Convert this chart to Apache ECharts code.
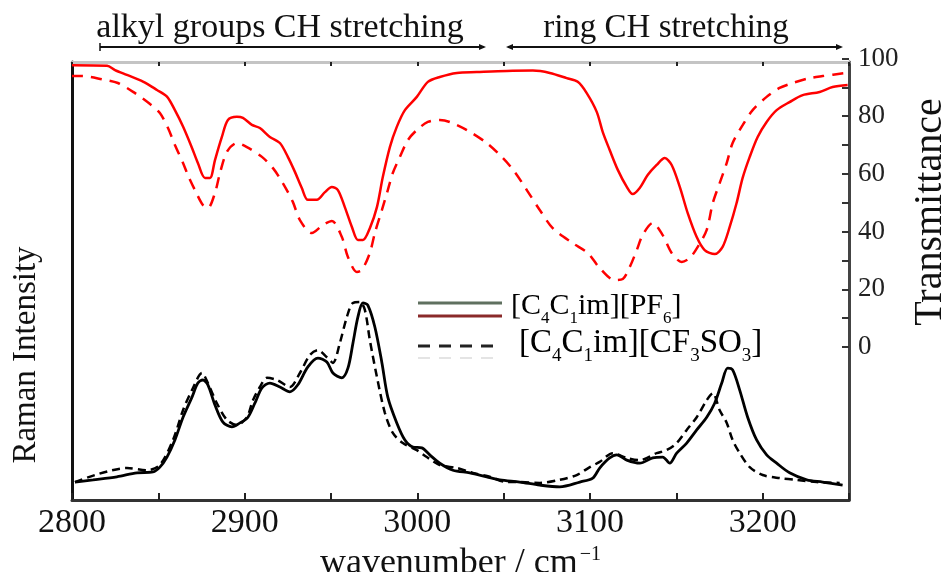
<!DOCTYPE html>
<html>
<head>
<meta charset="utf-8">
<script src="https://cdn.jsdelivr.net/npm/echarts@6/dist/echarts.min.js"></script>
<style>html,body{margin:0;padding:0;background:#fff;}#c{width:949px;height:572px;}</style>
</head>
<body>
<div id="c"></div>
<script>
// ---------- DATA ----------
var xTicks = [2800, 2900, 3000, 3100, 3200];
var tTicks = [0, 20, 40, 60, 80, 100];

// IR transmittance, [C4C1im][PF6] (solid red)
var irPF6_w = [2800,2820.3,2824.9,2831.8,2841.1,2849.2,2855.0,2859.6,2864.3,2869.5,2872.9,2877.0,2879.9,2882.8,2886.8,2890.3,2895.5,2899.0,2904.2,2908.8,2914.6,2920.4,2925.0,2929.1,2933.1,2936.6,2941.8,2946.5,2950.5,2954.0,2958.0,2962.1,2965.6,2968.5,2972.5,2976.6,2980.0,2984.1,2988.1,2992.8,2999.7,3006.1,3013.0,3022.9,3034.4,3051.8,3066.9,3076.7,3086.5,3092.9,3098.1,3103.9,3107.4,3111.4,3116.1,3121.3,3124.7,3128.8,3133.4,3138.6,3143.3,3147.3,3152.0,3156.6,3161.8,3166.4,3172.2,3176.8,3180.9,3184.9,3188.4,3192.5,3197.1,3202.3,3208.1,3215.6,3223.2,3233.0,3240.5,3249.2];
var irPF6_t = [97.7,97.5,96.0,94.3,92.0,89.1,86.8,82.1,76.4,69.0,63.8,58.6,58.6,64.8,72.8,78.7,79.8,79.4,77.0,75.9,72.8,70.7,65.9,60.7,55.1,51.0,51.0,53.7,55.5,54.4,48.5,41.6,37.1,37.1,41.2,48.5,58.9,69.3,76.3,82.1,86.7,91.9,93.6,95.0,95.3,95.7,95.8,95.0,93.2,91.9,88.0,81.5,74.5,68.3,61.4,55.5,53.0,55.1,59.6,63.1,65.5,63.1,55.5,46.4,38.1,33.6,32.2,34.7,41.6,49.9,58.6,65.9,72.8,78.0,82.1,84.9,87.3,88.4,90.1,90.8];

// IR transmittance, [C4C1im][CF3SO3] (dashed red)
var irOTf_w = [2800,2805.8,2817.4,2826.6,2836.5,2845.2,2850.9,2855.6,2859.6,2864.3,2867.1,2871.2,2875.8,2878.7,2882.8,2885.7,2889.7,2895.5,2901.3,2910.0,2916.4,2922.1,2927.9,2932.0,2938.9,2945.3,2950.5,2956.3,2959.8,2965.0,2967.9,2972.5,2975.4,2979.5,2982.9,2985.8,2989.9,2994.5,2999.7,3006.1,3013.0,3018.8,3028.7,3040.2,3049.5,3056.4,3063.4,3070.9,3078.4,3090.0,3098.7,3105.6,3114.3,3119.0,3123.0,3127.1,3130.5,3136.3,3142.1,3147.3,3153.1,3157.7,3162.4,3167.6,3171.1,3175.1,3179.2,3182.6,3188.4,3194.2,3202.3,3209.8,3217.4,3227.2,3234.7,3248.6];
var irOTf_t = [93.9,93.9,92.8,91.5,88.0,84.2,81.1,75.9,70.0,63.8,59.6,54.4,49.2,48.2,53.4,60.3,67.6,70.7,69.3,65.9,62.0,56.8,50.3,44.0,39.5,42.3,43.7,38.1,31.2,26.0,26.7,32.6,39.5,47.5,54.4,60.3,65.9,71.7,75.2,78.0,78.7,78.0,75.2,70.7,65.5,60.7,54.4,47.5,41.2,36.0,32.6,27.4,23.2,23.6,27.7,33.6,38.8,43.0,38.8,32.6,29.5,30.8,34.7,40.6,49.9,56.8,63.8,70.7,76.9,82.1,86.7,89.8,91.5,93.2,93.9,95.0];

// Raman intensity (arbitrary units), [C4C1im][PF6] (solid black)
var ramPF6_w = [2801.7,2812.2,2826.0,2837.6,2846.9,2850.9,2855.0,2859.6,2864.3,2869.5,2872.9,2875.8,2878.7,2882.8,2887.4,2892.6,2897.3,2901.9,2905.9,2910.0,2914.6,2920.4,2926.2,2930.8,2936.6,2942.4,2947.6,2951.1,2956.3,2959.8,2962.7,2965.6,2968.5,2971.3,2975.4,2979.5,2982.9,2988.1,2992.8,2997.4,3002.6,3007.2,3013.0,3020.6,3030.4,3040.2,3047.8,3059.3,3070.9,3082.5,3094.1,3101.6,3105.6,3111.4,3115.5,3121.3,3128.8,3136.3,3142.1,3146.2,3150.2,3156.0,3161.8,3167.6,3172.2,3176.3,3179.7,3182.6,3186.7,3191.3,3196.5,3202.3,3208.1,3215.6,3225.5,3234.7,3246.3];
var ramPF6_i = [4.1,4.6,5.3,6.2,6.4,7.5,9.8,13.7,18.9,23.5,26.7,27.4,26.3,21.7,17.8,16.7,17.6,18.9,22.1,25.6,26.7,25.8,24.7,26.3,30.4,32.4,31.5,29.0,27.9,30.1,35.8,41.8,45.0,44.5,39.5,31.3,23.5,17.6,13.7,12.1,11.9,10.3,8.4,6.8,6.2,5.3,4.6,4.1,3.4,3.0,4.1,5.0,7.3,9.6,10.3,9.1,8.4,9.6,9.8,8.4,10.7,13.0,16.0,18.9,22.1,26.7,30.1,29.7,25.1,18.9,13.7,10.3,8.4,6.2,4.6,4.1,3.4];

// Raman intensity (arbitrary units), [C4C1im][CF3SO3] (dashed black)
var ramOTf_w = [2801.7,2831.8,2843.4,2850.9,2858.5,2864.3,2869.5,2875.3,2878.7,2883.9,2889.7,2895.5,2901.3,2904.8,2908.8,2912.9,2918.7,2926.2,2932.0,2937.8,2942.4,2947.6,2951.1,2955.1,2959.2,2962.7,2966.7,2969.6,2972.5,2976.6,2981.2,2985.8,2991.6,2999.7,3005.5,3013.0,3022.9,3032.1,3041.9,3051.8,3059.3,3070.9,3082.5,3092.3,3099.9,3105.6,3113.2,3121.3,3128.8,3138.6,3144.4,3150.2,3156.0,3161.8,3167.6,3171.1,3175.1,3179.2,3182.6,3186.7,3192.5,3200.0,3209.8,3219.7,3231.3,3244.6];
var ramOTf_i = [4.1,7.3,6.8,8.0,13.7,20.5,25.1,29.0,26.7,22.1,18.3,17.1,18.9,22.8,25.8,27.9,27.4,25.8,29.0,33.1,34.2,32.6,31.3,35.8,41.8,45.0,45.2,43.4,36.5,28.1,19.9,15.3,13.0,11.4,9.8,8.0,7.3,6.2,5.3,4.1,4.1,3.9,4.6,5.7,7.5,8.7,10.7,9.6,9.1,10.7,11.4,13.0,16.0,18.9,22.8,24.4,20.5,17.6,13.7,10.7,7.5,5.7,5.0,4.6,4.1,3.9];

var legendNames = ['[C{s|4}C{s|1}im][PF{s|6}]', '[C{s|4}C{s|1}im][CF{s|3}SO{s|3}]'];
var bandLabels = ['alkyl groups CH stretching', 'ring CH stretching'];

function pairs(a, b) { return a.map(function (v, i) { return [v, b[i]]; }); }

// ---------- CHART ----------
var FONT = 'Liberation Serif';
var chart = echarts.init(document.getElementById('c'), null, {renderer: 'canvas'});
function richStyle(size) {
  return {
    m: {fontFamily: FONT, fontSize: size, color: '#111', padding: [0, 0, 6, 0], verticalAlign: 'bottom'},
    s: {fontFamily: FONT, fontSize: Math.round(size * 0.58), color: '#111', verticalAlign: 'bottom'}
  };
}
function richWrap(str) {
  var parts = str.split(/(\{s\|[^}]*\})/);
  return parts.map(function (p) { return p.indexOf('{s|') === 0 ? p : (p ? '{m|' + p + '}' : ''); }).join('');
}

var option = {
  backgroundColor: '#fff',
  animation: false,
  grid: [
    {left: 72, right: 100, top: 62, bottom: 72, outerBoundsMode: 'none', containLabel: false},
    {left: 72, right: 100, top: 58.5, bottom: 225, outerBoundsMode: 'none', containLabel: false}
  ],
  xAxis: [
    {
      type: 'value', gridIndex: 0, min: 2800, max: 3250, interval: 50, position: 'bottom',
      axisLine: {onZero: false, lineStyle: {color: '#333', width: 3}},
      axisTick: {inside: true, length: 7, lineStyle: {color: '#222', width: 2}},
      axisLabel: {
        margin: 6, fontFamily: FONT, fontSize: 34, color: '#111',
        formatter: function (v) { return xTicks.indexOf(v) >= 0 ? String(v) : ''; }
      },
      splitLine: {show: false},
      name: 'wavenumber / cm{sup|−1}', nameLocation: 'middle', nameGap: 40,
      nameTextStyle: {fontFamily: FONT, fontSize: 36, color: '#111',
        rich: {sup: {fontFamily: FONT, fontSize: 20, color: '#111', verticalAlign: 'top', padding: [0, 0, 18, 2]}}}
    },
    {
      type: 'value', gridIndex: 1, min: 2800, max: 3250, show: false
    },
    {
      type: 'value', gridIndex: 0, min: 2800, max: 3250, interval: 50, position: 'top',
      axisLine: {onZero: false, lineStyle: {color: '#c4c4c4', width: 3}},
      axisTick: {inside: true, length: 4, lineStyle: {color: '#222', width: 2}},
      axisLabel: {show: false}, splitLine: {show: false}
    }
  ],
  yAxis: [
    {
      type: 'value', gridIndex: 0, min: 0, max: 100, position: 'left',
      axisLine: {show: true, onZero: false, lineStyle: {color: '#111', width: 3}},
      axisTick: {show: false}, axisLabel: {show: false}, splitLine: {show: false}
    },
    {
      type: 'value', gridIndex: 1, min: 0, max: 100, interval: 10, position: 'right',
      axisLine: {show: true, onZero: false, lineStyle: {opacity: 0}},
      axisTick: {show: true, inside: true, length: 7, lineStyle: {color: '#333', width: 2}},
      axisLabel: {
        margin: 9, fontFamily: FONT, fontSize: 27, color: '#222',
        formatter: function (v) { return tTicks.indexOf(v) >= 0 ? String(v) : ''; }
      },
      splitLine: {show: false}
    },
    {
      type: 'value', gridIndex: 0, min: 0, max: 100, position: 'right',
      axisLine: {show: true, onZero: false, lineStyle: {color: '#444', width: 3}},
      axisTick: {show: false}, axisLabel: {show: false}, splitLine: {show: false}
    }
  ],
  series: [
    {
      name: 'IR PF6', type: 'line', xAxisIndex: 1, yAxisIndex: 1, data: pairs(irPF6_w, irPF6_t),
      showSymbol: false, smooth: 0.3, lineStyle: {color: '#ff0000', width: 2.5}, z: 3
    },
    {
      name: 'IR OTf', type: 'line', xAxisIndex: 1, yAxisIndex: 1, data: pairs(irOTf_w, irOTf_t),
      showSymbol: false, smooth: 0.3, lineStyle: {color: '#ff0000', width: 2.5, type: [11, 8]}, z: 3
    },
    {
      name: 'Raman PF6', type: 'line', xAxisIndex: 0, yAxisIndex: 0, data: pairs(ramPF6_w, ramPF6_i),
      showSymbol: false, smooth: 0.3, lineStyle: {color: '#000', width: 2.8}, z: 4
    },
    {
      name: 'Raman OTf', type: 'line', xAxisIndex: 0, yAxisIndex: 0, data: pairs(ramOTf_w, ramOTf_i),
      showSymbol: false, smooth: 0.3, lineStyle: {color: '#000', width: 2.5, type: [8, 5]}, z: 4
    }
  ],
  graphic: [
    // band annotations
    {type: 'text', x: 280, y: 28, style: {text: bandLabels[0], fontFamily: FONT, fontSize: 34, fill: '#111', textAlign: 'center', textVerticalAlign: 'middle'}},
    {type: 'text', x: 666, y: 28, style: {text: bandLabels[1], fontFamily: FONT, fontSize: 33, fill: '#111', textAlign: 'center', textVerticalAlign: 'middle'}},
    {type: 'line', shape: {x1: 100, y1: 47, x2: 484, y2: 47}, style: {stroke: '#111', lineWidth: 2}},
    {type: 'line', shape: {x1: 100, y1: 43, x2: 100, y2: 51}, style: {stroke: '#111', lineWidth: 1.5}},
    {type: 'polygon', shape: {points: [[486, 47], [479, 44], [479, 50]]}, style: {fill: '#111'}},
    {type: 'line', shape: {x1: 508, y1: 47, x2: 840, y2: 47}, style: {stroke: '#111', lineWidth: 2}},
    {type: 'polygon', shape: {points: [[506, 47], [513, 44], [513, 50]]}, style: {fill: '#111'}},
    {type: 'polygon', shape: {points: [[843, 47], [836, 44], [836, 50]]}, style: {fill: '#111'}},
    // axis titles
    {type: 'text', x: 26, y: 355, rotation: Math.PI / 2, style: {text: 'Raman Intensity', fontFamily: FONT, fontSize: 33, fill: '#111', textAlign: 'center', textVerticalAlign: 'middle'}},
    {type: 'text', x: 930, y: 212, rotation: Math.PI / 2, style: {text: 'Transmittance', fontFamily: FONT, fontSize: 40, fill: '#111', textAlign: 'center', textVerticalAlign: 'middle'}},
    // legend
    {type: 'line', shape: {x1: 418, y1: 303, x2: 502, y2: 303}, style: {stroke: '#5f705f', lineWidth: 3}},
    {type: 'line', shape: {x1: 418, y1: 316, x2: 502, y2: 316}, style: {stroke: '#8a2a2a', lineWidth: 3}},
    {type: 'line', shape: {x1: 418, y1: 346, x2: 502, y2: 346}, style: {stroke: '#222', lineWidth: 3, lineDash: [12, 9]}},
    {type: 'line', shape: {x1: 418, y1: 358, x2: 502, y2: 358}, style: {stroke: '#e4e4e4', lineWidth: 2, lineDash: [12, 9]}},
    {type: 'text', x: 511, y: 327, style: {text: richWrap(legendNames[0]), rich: richStyle(30), textAlign: 'left', textVerticalAlign: 'bottom'}},
    {type: 'text', x: 519, y: 366, style: {text: richWrap(legendNames[1]), rich: richStyle(33), textAlign: 'left', textVerticalAlign: 'bottom'}}
  ]
};
chart.setOption(option);
</script>
</body>
</html>
